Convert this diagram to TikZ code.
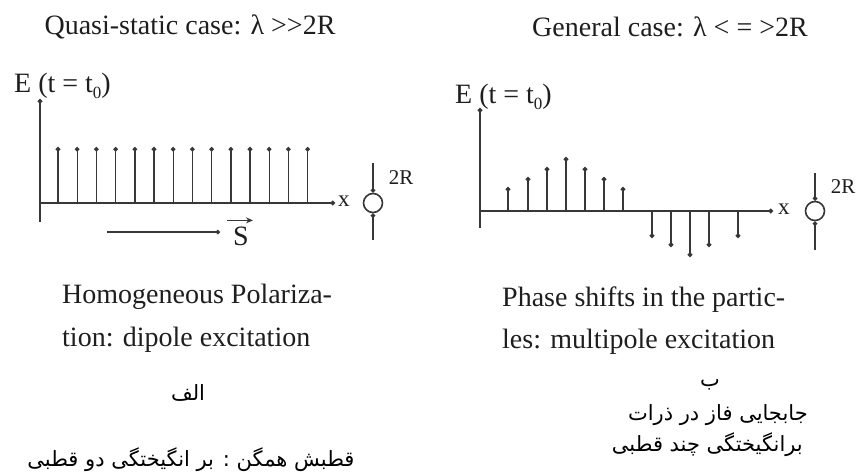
\documentclass[tikz,border=0pt]{standalone}
\usepackage{fontspec}
\setmainfont{Liberation Serif}
\newfontfamily\arabicfont[Script=Arabic]{DejaVu Sans}
\TeXXeTstate=1
\usetikzlibrary{arrows.meta}
\definecolor{lc}{RGB}{55,55,55}
\definecolor{tc}{RGB}{30,30,30}
\newcommand{\subnull}{\raisebox{-0.45ex}{\fontsize{17}{20}\selectfont 0}}
\begin{document}
\begin{tikzpicture}[x=1pt,y=-1pt,
  ax/.style={draw=lc, line width=1.6pt, -{Circle[length=4.5pt]}},
  spk/.style={draw=lc, line width=1.4pt, -{Circle[length=4.5pt]}},
  en/.style={text=tc, font=\fontsize{28}{32}\selectfont, inner sep=0pt},
  enm/.style={text=tc, font=\fontsize{23}{26}\selectfont, inner sep=0pt},
  ens/.style={text=tc, font=\fontsize{21}{24}\selectfont, inner sep=0pt},
  fa/.style={text=black, font=\arabicfont\fontsize{21}{24}\selectfont, inner sep=0pt},
  part/.style={circle, draw=lc, line width=1.6pt, minimum size=19pt, inner sep=0pt}]
\useasboundingbox (0,0) rectangle (857,474);

% ---------------- left panel ----------------
\node[en] (t1) at (190,27) {Quasi-static case: λ >\kern0pt>2R};
\node[en, anchor=west] (e1) at (14,86) {E (t = t\subnull)};
\coordinate (o1) at (40,203);
\coordinate (yt1) at (40,99);
\coordinate (yb1) at (40,222);
\coordinate (xe1) at (335,203);
\draw[ax] (yb1) -- (yt1);
\draw[ax] (o1) -- (xe1);
\node[enm, anchor=west] (x1) at (338,201) {x};
\foreach \i in {0,...,13}{
  \coordinate (lb\i) at ({58+19.2*\i},203);
  \coordinate (lt\i) at ({58+19.2*\i},147);
  \draw[spk] (lb\i) -- (lt\i);
}
\node[part] (c1) at (373,203) {};
\coordinate (ct1) at (373,163);
\coordinate (cb1) at (373,240);
\draw[spk] (ct1) -- (c1.north);
\draw[spk] (cb1) -- (c1.south);
\node[ens] (r1) at (401,178) {2R};
\coordinate (sa) at (107,232);
\coordinate (sb) at (220,232);
\draw[spk, line width=1.2pt] (sa) -- (sb);
\node[en] (s1) at (241,236) {S};
\draw[draw=lc, line width=1.3pt, -{Stealth[length=7pt,width=6pt]}] ([xshift=-14pt,yshift=6pt]s1.north) -- ([xshift=12pt,yshift=6pt]s1.north);

\node[en, anchor=west] (h1) at (62,297) {Homogeneous Polariza-};
\node[en, anchor=west] (h2) at (62,340) {tion: dipole excitation};
\node[fa] (p1) at (188,393) {\beginR الف\endR};
\node[fa] (p2) at (191,460) {\beginR قطبش همگن : بر انگیختگی دو قطبی\endR};

% ---------------- right panel ----------------
\node[en] (t2) at (670,27) {General case: λ < = >2R};
\node[en, anchor=west] (e2) at (455,97) {E (t = t\subnull)};
\coordinate (o2) at (480,211);
\coordinate (yt2) at (480,108);
\coordinate (yb2) at (480,228);
\coordinate (xe2) at (773,211);
\draw[ax] (yb2) -- (yt2);
\draw[ax] (o2) -- (xe2);
\node[enm, anchor=west] (x2) at (778,209) {x};
\foreach \xx/\yy [count=\k] in {508/187,528/177,547/167,566/157,585/167,604/177,623/187,652/238,671/247,690/257,709/247,738/238}{
  \coordinate (rb\k) at (\xx,211);
  \coordinate (rt\k) at (\xx,\yy);
  \draw[spk] (rb\k) -- (rt\k);
}
\node[part] (c2) at (815,211) {};
\coordinate (ct2) at (815,173);
\coordinate (cb2) at (815,250);
\draw[spk] (ct2) -- (c2.north);
\draw[spk] (cb2) -- (c2.south);
\node[ens] (r2) at (843,187) {2R};

\node[en, anchor=west] (h3) at (502,300) {Phase shifts in the partic-};
\node[en, anchor=west] (h4) at (502,342) {les: multipole excitation};
\node[fa] (p3) at (710,385) {\beginR ب\endR};
\node[fa, anchor=east] (p4) at (808,415) {\beginR جابجایی فاز در ذرات\endR};
\node[fa, anchor=east] (p5) at (803,445) {\beginR برانگیختگی چند قطبی\endR};
\end{tikzpicture}
\end{document}
